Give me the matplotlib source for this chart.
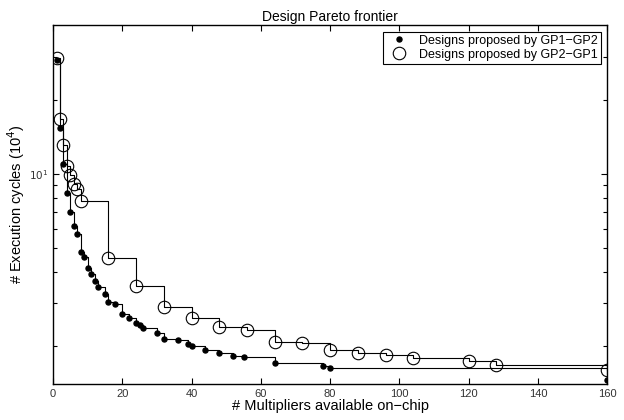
import matplotlib
matplotlib.use('Agg')
import matplotlib.pyplot as plt
from matplotlib.ticker import FixedLocator, NullFormatter, FuncFormatter

plt.rcParams['font.family'] = ['Liberation Sans', 'DejaVu Sans']

# designs proposed by GP1-GP2 (dots)
gp12_x = [1, 2, 3, 4, 5, 6, 7, 8, 9, 10, 11, 12, 13, 15, 16, 18, 20, 22, 24, 25,
          26, 30, 32, 36, 39, 40, 44, 48, 52, 55, 64, 78, 80, 160]
gp12_y = [29.1, 15.4, 11.0, 8.35, 7.0, 6.15, 5.70, 4.80, 4.61, 4.14, 3.92, 3.68,
          3.46, 3.24, 3.03, 2.95, 2.70, 2.59, 2.49, 2.43, 2.37, 2.26, 2.14, 2.11,
          2.04, 1.99, 1.93, 1.88, 1.82, 1.81, 1.70, 1.66, 1.62, 1.46]

# designs proposed by GP2-GP1 (open circles)
gp21_x = [1, 2, 3, 4, 5, 6, 7, 8, 16, 24, 32, 40, 48, 56, 64, 72, 80, 88, 96,
          104, 120, 128, 160]
gp21_y = [29.7, 16.8, 13.1, 10.8, 9.9, 9.1, 8.66, 7.79, 4.54, 3.52, 2.89, 2.61,
          2.39, 2.32, 2.08, 2.06, 1.93, 1.88, 1.84, 1.78, 1.74, 1.67, 1.60]

fig = plt.figure(figsize=(6.24, 4.2), dpi=100)
ax = fig.add_axes([0.085, 0.0857, 0.888, 0.854])

ax.step(gp12_x, gp12_y, where='post', color='black', lw=0.8)
ax.step(gp21_x, gp21_y, where='post', color='black', lw=0.8)
ax.plot(gp12_x, gp12_y, ls='none', marker='o', ms=3.6, color='black',
        label='Designs proposed by GP1\u2212GP2')
ax.plot(gp21_x, gp21_y, ls='none', marker='o', ms=9, mfc='none', mec='black',
        mew=0.8, label='Designs proposed by GP2\u2212GP1')

ax.set_yscale('log')
ax.set_xlim(0, 160)
ax.set_ylim(1.40, 40.3)
ax.set_xticks(range(0, 161, 20))
ax.yaxis.set_major_locator(FixedLocator([10]))
ax.yaxis.set_major_formatter(FuncFormatter(lambda v, _: r'$10^{1}$'))
ax.yaxis.set_minor_locator(FixedLocator([2, 3, 4, 5, 6, 7, 8, 9, 20, 30]))
ax.yaxis.set_minor_formatter(NullFormatter())
ax.tick_params(which='both', direction='in', top=True, right=True,
               labelsize=8, width=0.8, colors='black', labelcolor='#333333')
ax.tick_params(which='major', length=4)
ax.tick_params(which='minor', length=3)
ax.tick_params(axis='y', labelsize=7.5)
for sp in ax.spines.values():
    sp.set_linewidth(1.0)

ax.set_title('Design Pareto frontier', fontsize=10, pad=3)
ax.set_xlabel('# Multipliers available on\u2212chip', fontsize=10.5, labelpad=0)
ax.set_ylabel('# Execution cycles (10$^4$)', fontsize=10.5, labelpad=1)

leg = ax.legend(loc='upper right', fontsize=9, fancybox=False, framealpha=1,
                edgecolor='black', borderaxespad=0.5, handletextpad=0.6,
                borderpad=0.25, labelspacing=0.15, handlelength=2.0)
leg.get_frame().set_linewidth(0.8)

fig.savefig('out.png', dpi=100)
